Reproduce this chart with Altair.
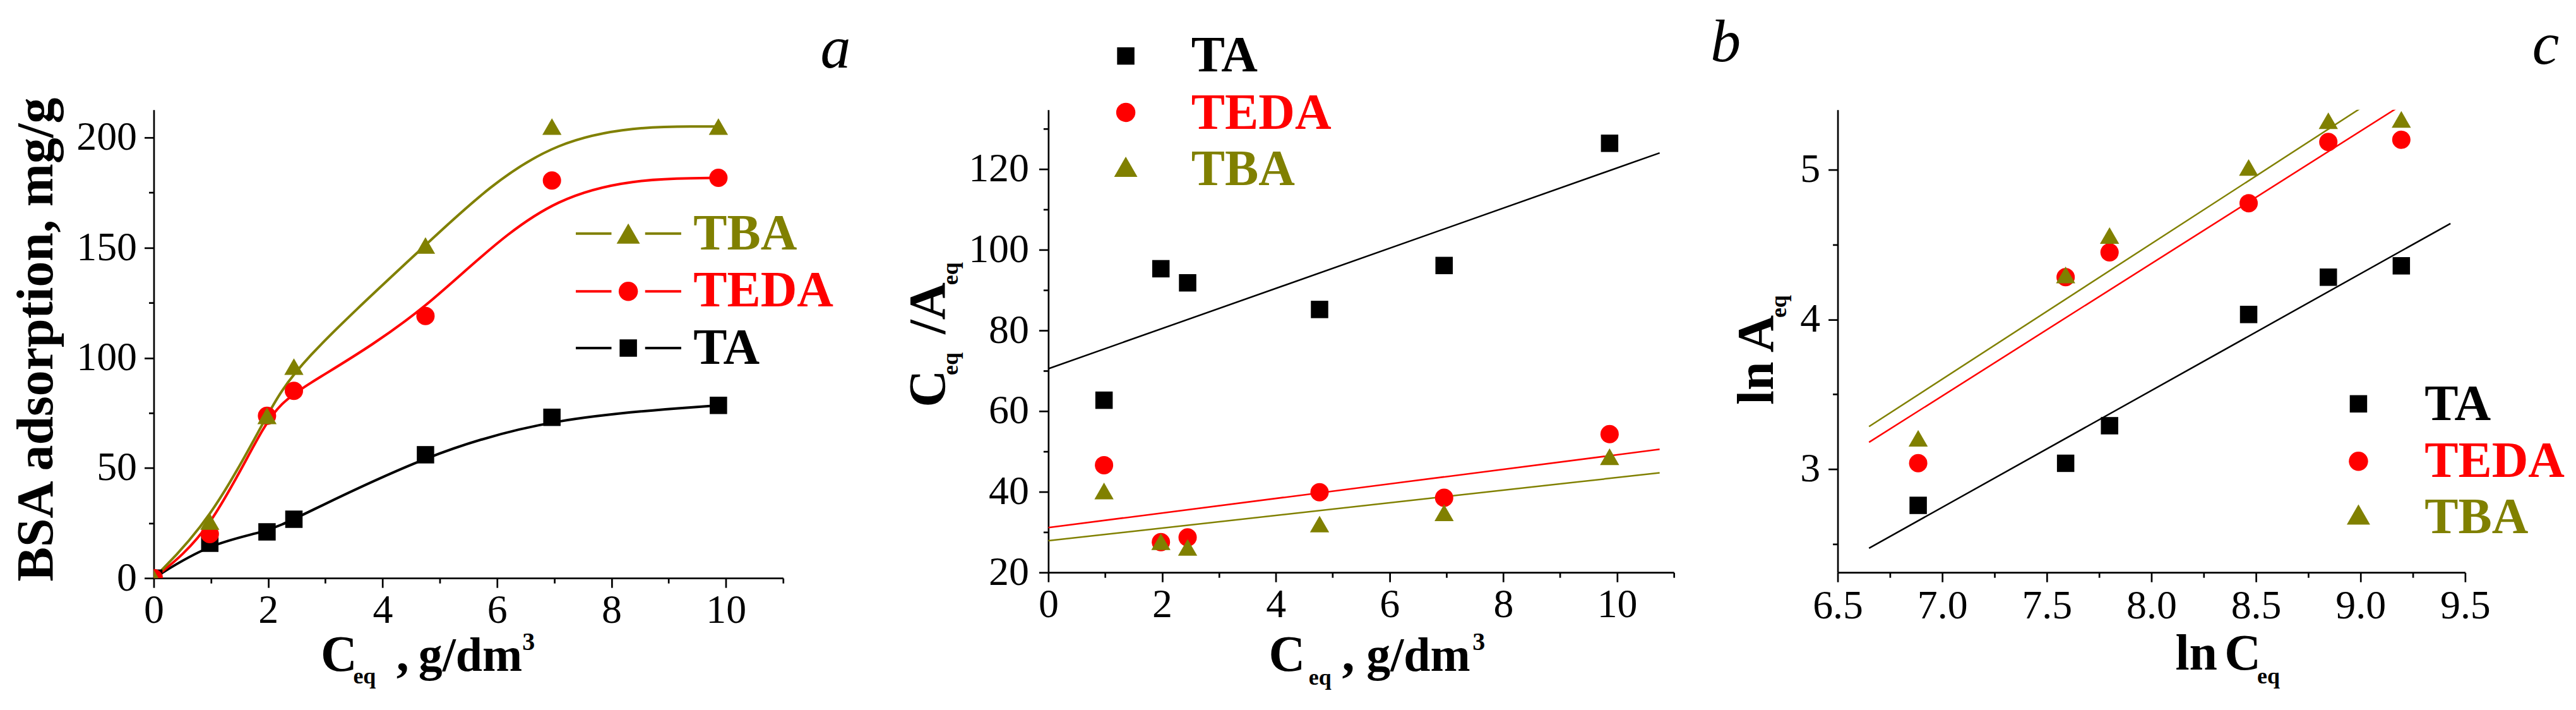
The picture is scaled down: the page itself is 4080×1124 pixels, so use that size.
import altair as alt
import pandas as pd

FONT = "Liberation Serif, Times New Roman, serif"

SERIES = ["TA", "TEDA", "TBA"]
COLORS = ["#000000", "#ff0000", "#808000"]
SHAPES = ["square", "circle", "triangle-up"]
SIZES = [760, 930, 1370]

# ---- panel a: adsorption isotherms ----
A_CEQ = [0.0, 0.98, 1.98, 2.45, 4.75, 6.96, 9.87]
A_TA = [0.0, 15.8, 21.0, 26.7, 56.0, 73.0, 78.4]
A_TEDA = [0.0, 20.0, 73.7, 85.0, 119.0, 180.5, 181.7]
A_TBA = [0.0, 25.7, 73.7, 96.0, 151.0, 205.0, 205.0]

# ---- panel b: Langmuir coordinates ----
B_CEQ = [0.98, 1.98, 2.45, 4.77, 6.96, 9.87]
B_TA = [62.7, 95.3, 91.8, 85.2, 96.1, 126.4]
B_TEDA = [46.6, 27.5, 28.7, 39.9, 38.5, 54.3]
B_TBA = [40.2, 27.6, 26.2, 32.0, 34.8, 48.7]

# ---- panel c: Freundlich coordinates ----
C_LNC = [6.885, 7.59, 7.80, 8.465, 8.846, 9.195]
C_TA = [2.758, 3.039, 3.29, 4.033, 4.282, 4.358]
C_TEDA = [3.04, 4.282, 4.448, 4.776, 5.185, 5.2]
C_TBA = [3.206, 4.297, 4.56, 5.015, 5.327, 5.336]

A_XTICKS = [0, 2, 4, 6, 8, 10]
A_XMINOR = [1, 3, 5, 7, 9, 11]
A_YTICKS = [0, 50, 100, 150, 200]
A_YMINOR = [25, 75, 125, 175]
B_XTICKS = [0, 2, 4, 6, 8, 10]
B_XMINOR = [1, 3, 5, 7, 9, 11]
B_YTICKS = [20, 40, 60, 80, 100, 120]
B_YMINOR = [30, 50, 70, 90, 110, 130]
C_XTICKS = [6.5, 7.0, 7.5, 8.0, 8.5, 9.0, 9.5]
C_XMINOR = [6.75, 7.25, 7.75, 8.25, 8.75, 9.25]
C_YTICKS = [3, 4, 5]
C_YMINOR = [2.5, 3.5, 4.5]


def long(xs, ys_list):
    rows = []
    for s, ys in zip(SERIES, ys_list):
        for x, y in zip(xs, ys):
            rows.append({"x": x, "y": y, "series": s})
    return pd.DataFrame(rows)


COLOR = alt.Color("series:N", scale=alt.Scale(domain=SERIES, range=COLORS), legend=None)
SHAPE = alt.Shape("series:N", scale=alt.Scale(domain=SERIES, range=SHAPES), legend=None)
SIZE = alt.Size("series:O", scale=alt.Scale(domain=SERIES, range=SIZES), legend=None)


def major_axis(orient, values, fmt, pad):
    return alt.Axis(orient=orient, values=values, format=fmt, title=None, grid=False,
                    labelFont=FONT, labelFontSize=64, labelColor="black", labelPadding=pad,
                    labelFlush=False, labelOverlap=False, labelBound=False,
                    tickSize=15, tickWidth=2.7, tickColor="black",
                    domainColor="black", domainWidth=2.7)


def minor_axis(orient, values):
    return alt.Axis(orient=orient, values=values, title=None, grid=False, labels=False,
                    tickSize=8, tickWidth=2.7, tickColor="black", domain=False)


def txt(s, x, y, size, color="black", weight="bold", style="normal", angle=0, align="left"):
    return alt.Chart(pd.DataFrame({"t": [s]})).mark_text(
        align=align, baseline="alphabetic", font=FONT, fontSize=size, fontWeight=weight,
        fontStyle=style, angle=angle, color=color
    ).encode(x=alt.value(x), y=alt.value(y), text="t:N")


def sym(i, x, y):
    return alt.Chart(pd.DataFrame({"t": [SERIES[i]]})).mark_point(
        shape=SHAPES[i], filled=True, size=SIZES[i], color=COLORS[i], opacity=1, strokeWidth=0
    ).encode(x=alt.value(x), y=alt.value(y))


def seg(i, x1, x2, y):
    return alt.Chart(pd.DataFrame({"t": [SERIES[i]]})).mark_rule(
        color=COLORS[i], strokeWidth=4
    ).encode(x=alt.value(x1), x2=alt.value(x2), y=alt.value(y))


def scales(xdom, ydom):
    return (alt.Scale(domain=xdom, nice=False, zero=False),
            alt.Scale(domain=ydom, nice=False, zero=False))


def axis_layers(df, xs, ys, xt, xm, yt, ym, xfmt, yfmt, xpad, ypad):
    major = alt.Chart(df).mark_point(opacity=0).encode(
        x=alt.X("x:Q", scale=xs, axis=major_axis("bottom", xt, xfmt, xpad)),
        y=alt.Y("y:Q", scale=ys, axis=major_axis("left", yt, yfmt, ypad)))
    minor = alt.Chart(df).mark_point(opacity=0).encode(
        x=alt.X("x:Q", scale=xs, axis=minor_axis("bottom", xm)),
        y=alt.Y("y:Q", scale=ys, axis=minor_axis("left", ym)))
    return [major, minor]


def points(df, xs, ys, clip=False):
    return alt.Chart(df).mark_point(filled=True, opacity=1, strokeWidth=0, clip=clip).encode(
        x=alt.X("x:Q", scale=xs, axis=None), y=alt.Y("y:Q", scale=ys, axis=None),
        color=COLOR, shape=SHAPE, size=SIZE)


# ---------------- panel a ----------------
dfa = long(A_CEQ, [A_TA, A_TEDA, A_TBA])
xsa, ysa = scales([0, 11], [0, 212.6])
lines_a = alt.Chart(dfa).mark_line(interpolate="basis", strokeWidth=4, clip=True).encode(
    x=alt.X("x:Q", scale=xsa, axis=None), y=alt.Y("y:Q", scale=ysa, axis=None), color=COLOR)
layers_a = axis_layers(dfa, xsa, ysa, A_XTICKS, A_XMINOR, A_YTICKS, A_YMINOR, "d", "d", 4, 12)
layers_a += [lines_a, points(dfa, xsa, ysa, clip=True)]
# legend (TBA, TEDA, TA from top)
for i, ry, by in [(2, 196.3, 221.6), (1, 288, 312), (0, 378, 403.4)]:
    layers_a += [seg(i, 670, 726.6, ry), seg(i, 780, 837.3, ry), sym(i, 753.3, ry),
                 txt(SERIES[i], 856.6, by, 80, color=COLORS[i])]
layers_a += [
    txt("BSA adsorption, mg/g", -161, 364.5, 82, angle=270, align="center"),
    txt("C", 265, 890, 80), txt("eq", 316.6, 910.3, 36),
    txt(",", 385, 890, 80), txt("g/dm", 420.3, 890, 76), txt("3", 585, 857, 40),
    txt("a", 1058.3, -67, 96, weight="normal", style="italic"),
]
pa = alt.layer(*layers_a).resolve_axis(x="independent", y="independent").properties(
    width=999, height=743)

# ---------------- panel b ----------------
dfb = long(B_CEQ, [B_TA, B_TEDA, B_TBA])
xsb, ysb = scales([0, 11], [20, 134.7])
fit_b = alt.Chart(dfb).transform_regression(
    "x", "y", groupby=["series"], extent=[0, 10.75]
).mark_line(strokeWidth=2.5, clip=True).encode(
    x=alt.X("x:Q", scale=xsb, axis=None), y=alt.Y("y:Q", scale=ysb, axis=None), color=COLOR)
layers_b = axis_layers(dfb, xsb, ysb, B_XTICKS, B_XMINOR, B_YTICKS, B_YMINOR, "d", "d", 4, 16)
layers_b += [fit_b, points(dfb, xsb, ysb)]
for i, ry, by in [(0, -85.4, -60.6), (1, 4.1, 30), (2, 90.3, 119)]:
    layers_b += [sym(i, 123, ry), txt(SERIES[i], 227, by, 80, color=COLORS[i])]
layers_b += [
    txt("C", -165.2, 472, 82, angle=270), txt("eq", -144, 421, 36, angle=270),
    txt("/A", -165.2, 356, 82, angle=270), txt("eq", -144, 278, 36, angle=270),
    txt("C", 350, 890.3, 80), txt("eq", 413.3, 912, 36),
    txt(",", 466.3, 890.3, 80), txt("g/dm", 505, 890.3, 76), txt("3", 673.3, 857, 40),
    txt("b", 1051.3, -77, 96, weight="normal", style="italic"),
]
pb = alt.layer(*layers_b).resolve_axis(x="independent", y="independent").properties(
    width=993, height=734)

# ---------------- panel c ----------------
dfc = long(C_LNC, [C_TA, C_TEDA, C_TBA])
xsc, ysc = scales([6.5, 9.5], [2.31, 5.4])
fit_c = alt.Chart(dfc).transform_regression(
    "x", "y", groupby=["series"], extent=[6.65, 9.43]
).mark_line(strokeWidth=2.5, clip=True).encode(
    x=alt.X("x:Q", scale=xsc, axis=None), y=alt.Y("y:Q", scale=ysc, axis=None), color=COLOR)
layers_c = axis_layers(dfc, xsc, ysc, C_XTICKS, C_XMINOR, C_YTICKS, C_YMINOR, ".1f", "d", 6, 13)
layers_c += [fit_c, points(dfc, xsc, ysc)]
for i, ry, by in [(0, 466.5, 492), (1, 557.7, 582), (2, 642, 672)]:
    layers_c += [sym(i, 826.7, ry), txt(SERIES[i], 931.7, by, 80, color=COLORS[i])]
layers_c += [
    txt("ln", -103.3, 468, 82, angle=270), txt("A", -103.3, 385, 82, angle=270),
    txt("eq", -81.3, 330, 36, angle=270),
    txt("ln", 536, 888, 80), txt("C", 614, 888, 80), txt("eq", 666, 910, 36),
    txt("c", 1102.7, -72.6, 96, weight="normal", style="italic"),
]
pc = alt.layer(*layers_c).resolve_axis(x="independent", y="independent").properties(
    width=996, height=734)

inner = alt.hconcat(pb, pc, spacing=260, bounds="flush")
chart = alt.hconcat(pa, inner, spacing=421, bounds="flush").properties(
    padding={"left": 8, "top": 11, "right": 10, "bottom": 10},
    background="white",
).configure_view(stroke=None)

chart.save("out.html", embed_options={"renderer": "svg", "actions": False})
